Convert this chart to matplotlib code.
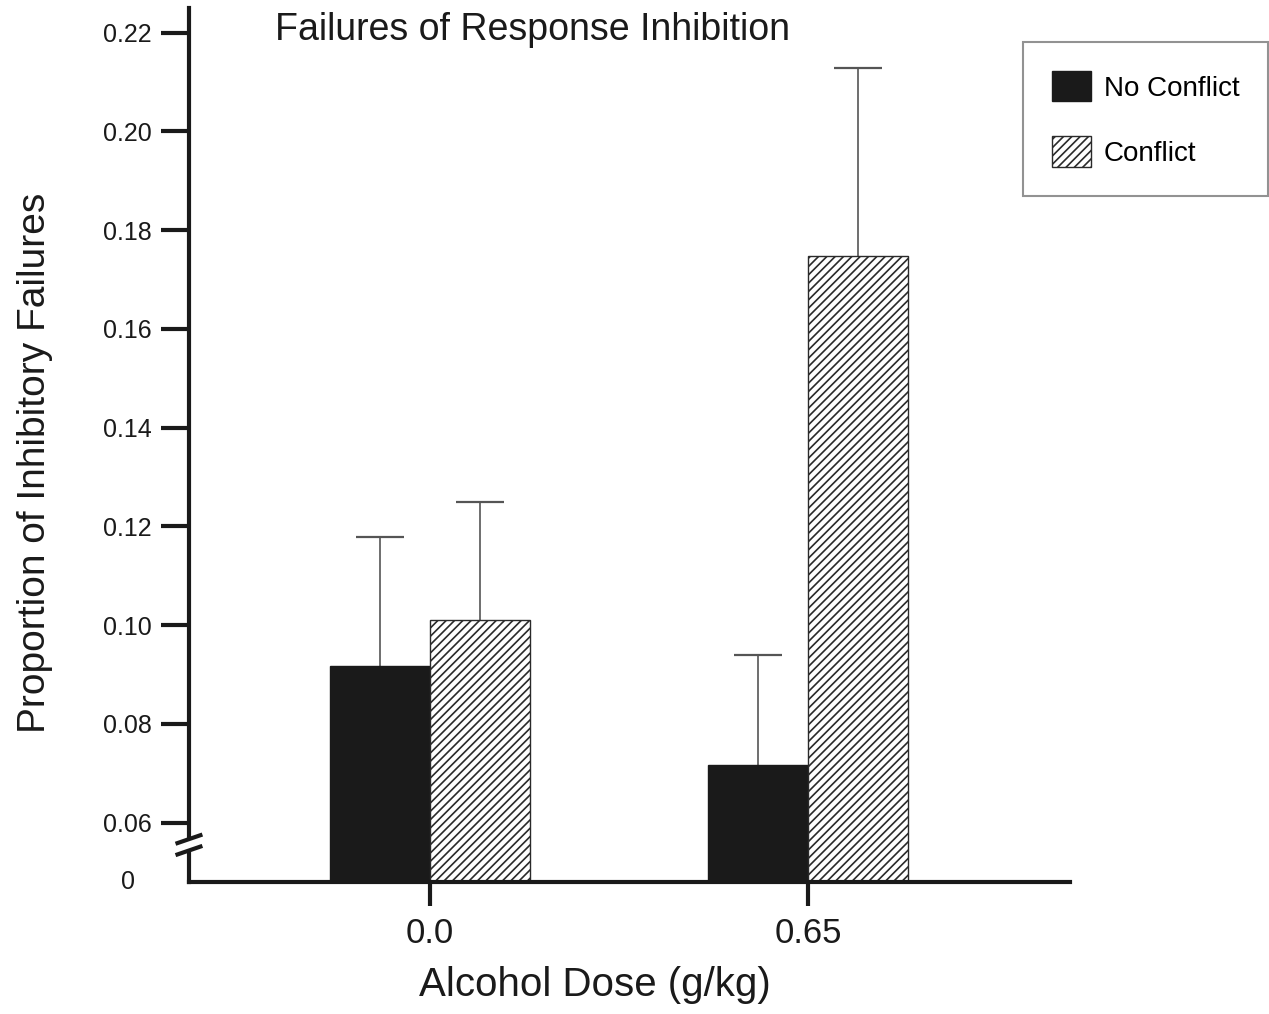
import matplotlib.pyplot as plt
import numpy as np

plt.rcParams['font.family'] = ['Liberation Sans', 'DejaVu Sans']
plt.rcParams['hatch.linewidth'] = 1.2

doses = ["0.0", "0.65"]
no_conflict = [0.0918, 0.0716]
no_conflict_err = [0.0260, 0.0224]
conflict = [0.1010, 0.1748]
conflict_err = [0.0240, 0.0381]
ytick_values = [0.06, 0.08, 0.10, 0.12, 0.14, 0.16, 0.18, 0.20, 0.22]
ytick_labels = ["0.06", "0.08", "0.10", "0.12", "0.14", "0.16", "0.18", "0.20", "0.22"]

# broken axis: "0" sits a little below 0.06
base = 0.048

fig = plt.figure(figsize=(12.69, 10.14), dpi=100)
ax = fig.add_axes([0.1489, 0.1302, 0.6942, 0.862])

x = np.arange(len(doses))
w = 0.265
ax.bar(x - w / 2, np.array(no_conflict) - base, w, bottom=base, color="#1a1a1a",
       edgecolor="#1a1a1a", label="No Conflict", zorder=2)
ax.bar(x + w / 2, np.array(conflict) - base, w, bottom=base, color="white",
       edgecolor="#2a2a2a", linewidth=1.0, hatch="////", label="Conflict", zorder=2)
# symmetric bars drawn behind the bars, so only the upper half shows
ax.errorbar(x - w / 2, no_conflict, yerr=no_conflict_err, fmt="none",
            ecolor="#555555", elinewidth=1.2, capsize=17, capthick=1.6, zorder=1)
ax.errorbar(x + w / 2, conflict, yerr=conflict_err, fmt="none",
            ecolor="#555555", elinewidth=1.2, capsize=17, capthick=1.6, zorder=1)

ax.set_xlim(-0.638, 1.693)
ax.set_ylim(base, 0.225)
ax.set_xticks(x)
ax.set_xticklabels(doses, fontsize=25)
ax.set_yticks(ytick_values)
ax.set_yticklabels(ytick_labels, fontsize=18)
ax.tick_params(axis="y", length=20, width=3, pad=7, colors="#1a1a1a")
ax.tick_params(axis="x", length=17, width=3, pad=8, colors="#1a1a1a")

for side in ["top", "right"]:
    ax.spines[side].set_visible(False)
for side in ["left", "bottom"]:
    ax.spines[side].set_linewidth(3)
    ax.spines[side].set_color("#1a1a1a")

fig.text(135 / 1269, 1 - 882 / 1014, "0", fontsize=18, ha="right", va="center", color="#1a1a1a")

# break marks on the y axis
ax.plot([0, 0], [0.034, 0.050], transform=ax.transAxes, color="white", lw=6,
        clip_on=False, zorder=5, solid_capstyle="butt")
for yc in [0.049, 0.036]:
    ax.plot([-0.013, 0.013], [yc - 0.0045, yc + 0.0045], transform=ax.transAxes,
            color="#1a1a1a", lw=3, clip_on=False, zorder=6)

fig.text(275 / 1269, 1 - 30 / 1014, "Failures of Response Inhibition", fontsize=27,
         ha="left", va="center", color="#1a1a1a")
fig.text(595 / 1269, 1 - 985 / 1014, "Alcohol Dose (g/kg)", fontsize=29,
         ha="center", va="center", color="#1a1a1a")
fig.text(35 / 1269, 1 - 463 / 1014, "Proportion of Inhibitory Failures", fontsize=28,
         rotation=90, ha="center", va="center", color="#1a1a1a")

leg = fig.legend(loc="upper left", bbox_to_anchor=(1023 / 1269, 1 - 42 / 1014),
                 fontsize=20, frameon=True, fancybox=False, edgecolor="#777777",
                 handlelength=1.4, handleheight=1.3, labelspacing=1.25,
                 borderpad=1.05, handletextpad=0.45, borderaxespad=0)
leg.get_frame().set_linewidth(1.5)

fig.savefig("out.png", dpi=100)
